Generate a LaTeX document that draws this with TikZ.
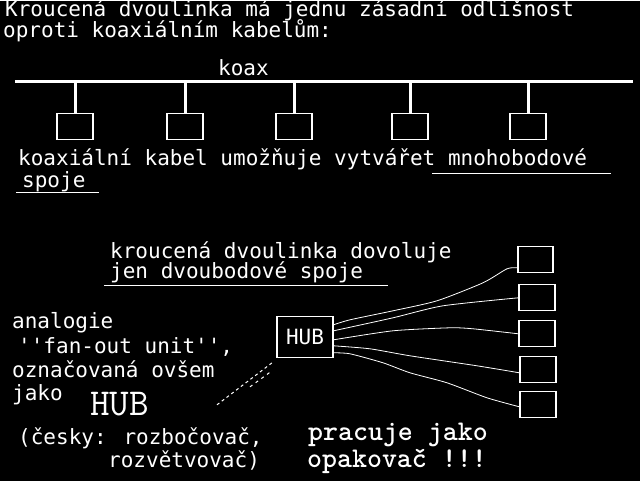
\documentclass[tikz,border=0pt]{standalone}
\usepackage{fontspec}
\newfontfamily\pix{DejaVu Sans Mono}

\begin{document}
\begin{tikzpicture}[x=1pt,y=-1pt,white,
        txt/.style={anchor=base west,inner sep=0pt,font=\pix\fontsize{21}{21}\selectfont},
        slab/.style={anchor=base west,inner sep=0pt,font=\ttfamily\bfseries\fontsize{28.5}{28.5}\selectfont},
        cell/.style={draw,line width=1.2pt,minimum width=36pt,minimum height=26pt,inner sep=0pt},
        wire/.style={line width=0.8pt,line join=round}]
        \fill[black] (0,0) rectangle (640,480);

        % title
        \node (t1) [txt] at (5,16) {Kroucená dvoulinka má jednu zásadní odlišnost};
        \node (t2) [txt] at (3,37) {oproti koaxiálním kabelům:};

        % coax bus
        \node (koax) [txt] at (218,75) {koax};
        \coordinate (busL) at (15,81);
        \coordinate (busR) at (633,81);
        \draw[line width=3pt] (busL) -- (busR);
        \foreach \n/\x in {1/75,2/185,3/294,4/410,5/528} {
            \node (c\n) [cell] at (\x,126) {};
            \draw[line width=3pt] (c\n.north |- busL) -- (c\n.north);
        }

        \node (k1) [txt] at (18,165) {koaxiální kabel umožňuje vytvářet mnohobodové};
        \node (k2) [txt] at (22,187) {spoje};
        \draw[line width=0.8pt] (432,173) -- (611,173);
        \draw[line width=0.8pt] (16,192) -- (99,192);

        % twisted pair
        \node (d1) [txt] at (110,258) {kroucená dvoulinka dovoluje};
        \node (d2) [txt] at (110,278) {jen dvoubodové spoje};
        \draw[line width=0.8pt] (104,285) -- (388,285);

        \node (hub) [draw,line width=1.2pt,minimum width=56pt,minimum height=41pt,inner sep=0pt,
            font=\pix\fontsize{21}{21}\selectfont] at (305,336.5) {HUB};
        \node (r1) [cell,minimum width=35pt] at (535.5,259) {};
        \node (r2) [cell] at (537,297) {};
        \node (r3) [cell] at (537,333) {};
        \node (r4) [cell] at (538,369) {};
        \node (r5) [cell] at (538,403.5) {};

        \draw[wire] plot[smooth,tension=0.4] coordinates {([yshift=12.5pt]hub.east) (350,319) (393,310) (437,300) (483,282) (507,268) ([yshift=-8pt]r1.west)};
        \draw[wire] plot[smooth,tension=0.4] coordinates {([yshift=6.5pt]hub.east) (393,317) (443,305) (r2.west)};
        \draw[wire] plot[smooth,tension=0.4] coordinates {([yshift=-2.5pt]hub.east) (393,330) (450,327) (473,328) (r3.west)};
        \draw[wire] plot[smooth,tension=0.4] coordinates {([yshift=-8.5pt]hub.east) (370,348) (410,355) (477,365) ([yshift=-3pt]r4.west)};
        \draw[wire] plot[smooth,tension=0.4] coordinates {([yshift=-15.5pt]hub.east) (350,353) (383,362) (410,372) (447,382) (487,397) ([yshift=-2.5pt]r5.west)};

        % left text
        \node (a1) [txt] at (12,328) {analogie};
        \node (a2) [txt] at (18,353) {''fan-out unit'',};
        \node (a3) [txt] at (12,377) {označovaná ovšem};
        \node (a4) [txt] at (12,400) {jako};
        \node (bighub) [slab,font=\ttfamily\fontsize{38}{38}\selectfont] at (90,415) {HUB};
        \coordinate (dotA) at (217,404);
        \coordinate (dotB) at (272,362);
        \coordinate (dotC) at (250,386);
        \coordinate (dotD) at (272,370);
        \draw[dash pattern=on 3pt off 3pt,line width=1pt] (dotA) -- (dotB);
        \draw[dash pattern=on 3pt off 4pt,line width=1pt] (dotC) -- (dotD);

        \node (e1) [txt] at (18,444) {(česky: rozbočovač,};
        \node (e2) [txt] at (108,467) {rozvětvovač)};

        \node (p1) [slab] at (308,440) {pracuje jako};
        \node (p2) [slab] at (307,467) {opakovač !!!};
    \end{tikzpicture}
\end{document}
